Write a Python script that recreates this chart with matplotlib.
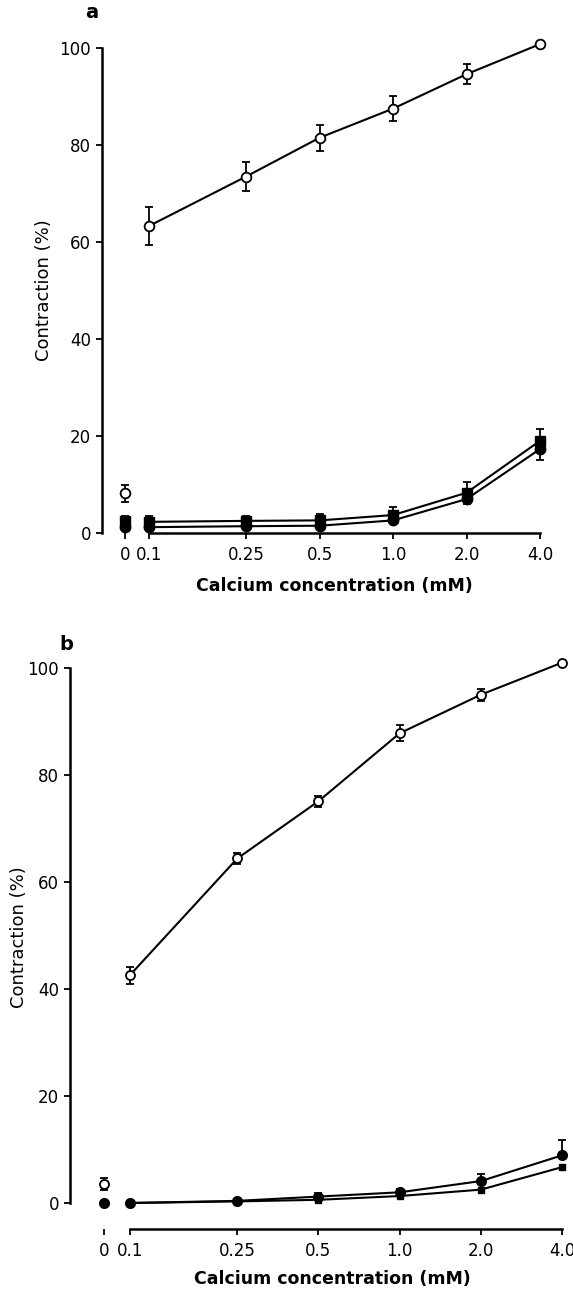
import matplotlib
matplotlib.use("Agg")
import matplotlib.pyplot as plt
from matplotlib.ticker import NullLocator, FixedLocator, FixedFormatter

plt.rcParams['font.family'] = ['DejaVu Sans']

# ---------------- data ----------------
conc_labels = ['0', '0.1', '0.25', '0.5', '1.0', '2.0', '4.0']
conc = [0.0, 0.1, 0.25, 0.5, 1.0, 2.0, 4.0]
ZERO_X = 0.08  # where the "0" concentration is drawn on the log axis

# panel a
a_open = [8.2, 63.3, 73.5, 81.5, 87.5, 94.6, 100.8]
a_open_err = [1.8, 4.0, 3.0, 2.7, 2.6, 2.1, 0.0]
a_sq = [2.4, 2.3, 2.5, 2.6, 3.7, 8.3, 19.0]
a_sq_err_up = [1.1, 1.3, 1.1, 1.3, 1.6, 2.3, 2.5]
a_ci = [1.2, 1.2, 1.4, 1.5, 2.6, 7.0, 17.3]
a_ci_err_dn = [0.0, 0.0, 0.0, 0.0, 0.0, 1.0, 2.3]

# panel b
b_open = [3.5, 42.6, 64.4, 75.1, 87.8, 95.0, 101.0]
b_open_err = [1.1, 1.6, 1.0, 1.0, 1.5, 1.1, 0.0]
b_ci = [0.0, 0.0, 0.4, 1.2, 2.0, 4.1, 8.9]
b_ci_err_up = [0.0, 0.0, 0.0, 0.7, 0.6, 1.4, 2.8]
b_sq = [0.0, 0.0, 0.3, 0.6, 1.3, 2.5, 6.7]

xlabel = 'Calcium concentration (mM)'
ylabel = 'Contraction (%)'

# ---------------- layout helpers ----------------
W, H = 573, 1294
fig = plt.figure(figsize=(W / 100, H / 100), dpi=100)


def px_x(p):
    return p / W


def px_y(p):
    return 1 - p / H


def make_axes(left, right, y0, y100, top, x01, x4):
    ax = fig.add_axes([px_x(left), px_y(y0), (right - left) / W, (y0 - top) / H])
    dec = (x4 - x01) / 1.60206
    lo = 0.1 * 10 ** (-(x01 - left) / dec)
    hi = 4.0 * 10 ** ((right - x4) / dec)
    ax.set_xscale('log')
    ax.set_xlim(lo, hi)
    ax.set_ylim(0, (y0 - top) / ((y0 - y100) / 100.0))
    return ax


xpos = [ZERO_X if c == 0 else c for c in conc]

LW = 1.5
ERRKW = dict(ecolor='black', elinewidth=1.3, capsize=3.2, capthick=1.3, linestyle='none')


def noclip(container):
    for art in container.get_children():
        art.set_clip_on(False)


def style(ax, bottom_outward_px):
    for s in ['top', 'right']:
        ax.spines[s].set_visible(False)
    ax.spines['left'].set_linewidth(1.8)
    ax.spines['bottom'].set_linewidth(1.8)
    ax.spines['left'].set_bounds(0, 100)
    ax.spines['bottom'].set_bounds(0.1, 4.0)
    if bottom_outward_px:
        ax.spines['bottom'].set_position(('outward', bottom_outward_px * 0.72))
    ax.xaxis.set_major_locator(FixedLocator(xpos))
    ax.xaxis.set_major_formatter(FixedFormatter(conc_labels))
    ax.xaxis.set_minor_locator(NullLocator())
    ax.set_yticks([0, 20, 40, 60, 80, 100])
    ax.tick_params(axis='both', direction='out', length=4, width=1.3,
                   labelsize=12, pad=4)
    ax.tick_params(axis='x', pad=5)


# ---------------- panel a ----------------
axa = make_axes(102, 555, 533, 48, 38, 149, 540)
style(axa, 0)

axa.plot(xpos[1:], a_open[1:], color='black', lw=LW, zorder=2, clip_on=False)
axa.plot(xpos[1:], a_sq[1:], color='black', lw=LW, zorder=2, clip_on=False)
axa.plot(xpos[1:], a_ci[1:], color='black', lw=LW, zorder=2, clip_on=False)

c = axa.errorbar(xpos, a_open, yerr=a_open_err, fmt='o', ms=7, mfc='white',
                 mec='black', mew=1.3, zorder=3, **ERRKW)
noclip(c)
c = axa.errorbar(xpos, a_sq, yerr=[[0] * 7, a_sq_err_up], fmt='s', ms=6.5,
                 mfc='black', mec='black', zorder=3, **ERRKW)
noclip(c)
c = axa.errorbar(xpos, a_ci, yerr=[a_ci_err_dn, [0] * 7], fmt='o', ms=7.5,
                 mfc='black', mec='black', zorder=3, **ERRKW)
noclip(c)

axa.set_ylabel(ylabel, fontsize=13)
axa.yaxis.set_label_coords((53 - 102) / 453, 0.49)
axa.set_xlabel(xlabel, fontsize=12.5, fontweight='bold')
axa.xaxis.set_label_coords((334 - 102) / 453, (533 - 577) / 495)
fig.text(px_x(92), px_y(13), 'a', fontsize=14, fontweight='bold',
         ha='center', va='center')

# ---------------- panel b ----------------
axb = make_axes(70, 570, 1203, 668, 657, 130, 562)
style(axb, 26)

axb.plot(xpos[1:], b_open[1:], color='black', lw=LW, zorder=2, clip_on=False)
axb.plot(xpos[1:], b_ci[1:], color='black', lw=LW, zorder=2, clip_on=False)
axb.plot(xpos[1:], b_sq[1:], color='black', lw=LW, zorder=2, clip_on=False)

c = axb.errorbar(xpos, b_open, yerr=b_open_err, fmt='o', ms=6.5, mfc='white',
                 mec='black', mew=1.3, zorder=3, **ERRKW)
noclip(c)
c = axb.errorbar(xpos, b_ci, yerr=[[0] * 7, b_ci_err_up], fmt='o', ms=7,
                 mfc='black', mec='black', zorder=3, **ERRKW)
noclip(c)
c = axb.errorbar(xpos, b_sq, fmt='s', ms=4, mfc='black', mec='black',
                 zorder=3, linestyle='none')
noclip(c)

axb.set_ylabel(ylabel, fontsize=13)
axb.yaxis.set_label_coords((28 - 70) / 500, 0.487)
axb.set_xlabel(xlabel, fontsize=12.5, fontweight='bold')
axb.xaxis.set_label_coords((332 - 70) / 500, (1203 - 1270) / 546)
fig.text(px_x(66), px_y(645), 'b', fontsize=14, fontweight='bold',
         ha='center', va='center')

fig.savefig('out.png', dpi=100, facecolor='white')
